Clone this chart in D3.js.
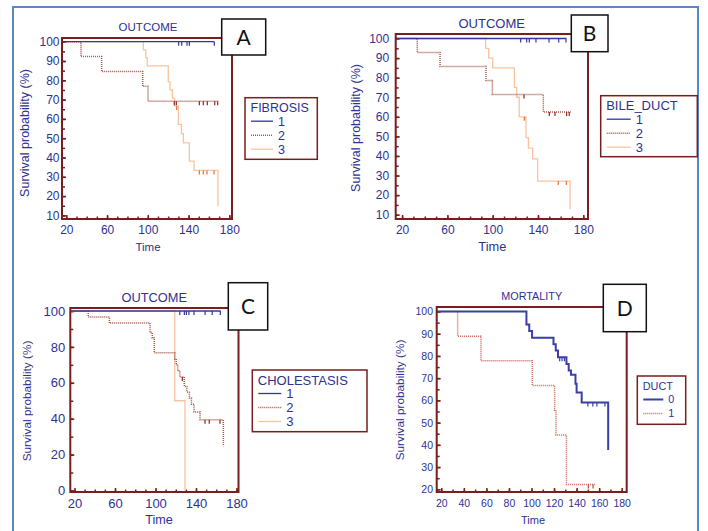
<!DOCTYPE html>
<html>
<head>
<meta charset="utf-8">
<script src="https://cdnjs.cloudflare.com/ajax/libs/d3/7.8.5/d3.min.js"></script>
<style>
    body { margin: 0; background: #fff; }
    svg { display: block; font-family: "Liberation Sans", Arial, sans-serif; }
</style>
</head>
<body>
<div id="chart"></div>
<script>
(function () {
    var timeTicks = [20, 60, 100, 140, 180];
    var timeTicksD = [20, 40, 60, 80, 100, 120, 140, 160, 180];
    var survTicks = [10, 20, 30, 40, 50, 60, 70, 80, 90, 100];
    var survTicksC = [0, 20, 40, 60, 80, 100];
    var survTicksD = [20, 30, 40, 50, 60, 70, 80, 90, 100];

    var groupNames = ['1', '2', '3'];
    var ductNames = ['0', '1'];

    // [time, survival %] at each drop
    var fibrosis1 = [[0, 100], [165.3, 100]];
    var fibrosis2 = [[0, 100], [34.4, 92.3], [54.7, 84.6], [95, 76.9], [100.2, 69.2], [169.6, 69.2]];
    var fibrosis3 = [[0, 100], [95.6, 95.8], [98, 91.7], [99.5, 87.5], [120.1, 79.2], [121.8, 75], [124.1, 70.8],
        [126.3, 66.7], [130, 57.2], [133, 52.4], [134.9, 47.6], [140.8, 38.1], [145.4, 33.3], [168.9, 14.8]];
    var fibrosis1Cens = [130.3, 133.3, 138.5, 140.8, 165.3];
    var fibrosis2Cens = [126, 128, 150.6, 154.5, 158.4, 165.7, 168.6];
    var fibrosis3Cens = [128.4, 150.6, 154.5, 158.1, 165];

    var bileDuct1 = [[0, 100], [165, 100]];
    var bileDuct2 = [[0, 100], [33.4, 92.9], [53.5, 85.7], [94.1, 78.6], [99.7, 71.4], [144.7, 62.5], [168.9, 62.5]];
    var bileDuct3 = [[0, 100], [93.8, 95], [96.5, 90], [100, 85], [119.1, 75], [121.2, 70], [123.4, 60],
        [129.4, 49.4], [131.5, 44], [135.3, 38.5], [139.7, 27.2], [168.3, 12.8]];
    var bileDuct1Cens = [124.7, 130, 132.3, 138.2, 149.7, 158.3, 164.7];
    var bileDuct2Cens = [127.6, 150, 155, 165.3, 167.6];
    var bileDuct3Cens = [127.9, 157.9, 165];

    var cholestasis1 = [[0, 100], [164.4, 100]];
    var cholestasis2 = [[0, 100], [33.6, 96.7], [54.4, 93.3], [94.6, 88], [96.8, 85], [98.8, 76.7], [119, 73.3],
        [120.5, 70], [122, 66.7], [124, 63.3], [128.5, 58], [131, 54.8], [133.5, 51.5], [135.5, 48],
        [138, 43.7], [144, 39.4], [167, 24.6]];
    var cholestasis3 = [[0, 100], [119, 50], [129.1, 0]];
    var cholestasis1Cens = [124, 128.5, 130.5, 133, 138, 149, 156, 164];
    var cholestasis2Cens = [126.5, 148.9, 153.1, 163.7];
    var cholestasis3Cens = [];

    var duct0 = [[0, 100], [95.5, 94.1], [98, 91.2], [100.5, 88.2], [119.5, 85.3], [121.5, 82.4], [123.5, 79.4],
        [131, 76.4], [133, 73.5], [135, 71.5], [139, 67.5], [140, 63.5], [144.5, 59], [168, 37.7]];
    var duct1 = [[0, 100], [34.5, 88.9], [55.2, 77.8], [100.7, 66.7], [120.5, 55.6], [121.7, 44.4],
        [131, 22.2], [156.3, 22.2]];
    var duct0Cens = [125, 127.1, 129.2, 150, 154.4, 158, 165.1];
    var duct1Cens = [150.4, 154.6];

    var ink = '#2e3192';
    var frame = '#7a1d1d';

    var thinStyles = [
        { color: '#3434a0', width: 1.3, dash: null, mark: '#3434a0' },
        { color: '#a65646', width: 1.5, dash: '1,1', mark: '#862720' },
        { color: '#f8c4a0', width: 1.3, dash: null, mark: '#f26b2a' }
    ];
    var ductStyles = [
        { color: '#3a3fa8', width: 2, dash: null, mark: '#3a3fa8' },
        { color: '#cc6655', width: 1.5, dash: '1,1', mark: '#b84a3c' }
    ];

    var panels = [
        {
            letter: 'A', title: 'OUTCOME', legend: 'FIBROSIS', names: groupNames, styles: thinStyles,
            curves: [fibrosis1, fibrosis2, fibrosis3], cens: [fibrosis1Cens, fibrosis2Cens, fibrosis3Cens],
            xTicks: timeTicks, yTicks: survTicks, yDomain: [10, 100], yMinor: 5,
            xRange: [66.3, 229.3], yRange: [215.4, 41.7], box: [62, 38, 232, 219],
            font: 12, xPad: 6.5, yPad: 2.5,
            titlePos: [148, 30.7, 11.5], yLabelPos: [25, 133, 12.5], timePos: [148, 250.7, 11.5],
            legendBox: [245, 97.7, 72.3, 61.6, 12.5, 22], letterBox: [221.7, 19, 44, 36]
        },
        {
            letter: 'B', title: 'OUTCOME', legend: 'BILE_DUCT', names: groupNames, styles: thinStyles,
            curves: [bileDuct1, bileDuct2, bileDuct3], cens: [bileDuct1Cens, bileDuct2Cens, bileDuct3Cens],
            xTicks: timeTicks, yTicks: survTicks, yDomain: [10, 100], yMinor: 5,
            xRange: [402.1, 583.3], yRange: [214.7, 38.5], box: [395.7, 34, 588, 219],
            font: 12, xPad: 6, yPad: 6.5,
            titlePos: [491.7, 28, 13], yLabelPos: [356, 128, 12.5], timePos: [492.3, 251, 12.8],
            legendBox: [600.7, 95.7, 96.6, 61, 13, 24], letterBox: [571.3, 15, 36.7, 36.7]
        },
        {
            letter: 'C', title: 'OUTCOME', legend: 'CHOLESTASIS', names: groupNames, styles: thinStyles,
            curves: [cholestasis1, cholestasis2, cholestasis3],
            cens: [cholestasis1Cens, cholestasis2Cens, cholestasis3Cens],
            xTicks: timeTicks, yTicks: survTicksC, yDomain: [0, 100], yMinor: 10,
            xRange: [74.5, 236.5], yRange: [490.5, 311], box: [70.3, 308, 238.5, 492],
            font: 13, xPad: 6.5, yPad: 5,
            titlePos: [154.3, 302, 12.8], yLabelPos: [27, 401, 11.8], timePos: [159, 524, 12.6],
            legendBox: [252.3, 370, 114.7, 61.7, 13, 23], letterBox: [228.3, 282.7, 39.4, 47.3]
        },
        {
            letter: 'D', title: 'MORTALITY', legend: 'DUCT', names: ductNames, styles: ductStyles,
            curves: [duct0, duct1], cens: [duct0Cens, duct1Cens],
            xTicks: timeTicksD, yTicks: survTicksD, yDomain: [20, 100], yMinor: 5,
            xRange: [441.3, 621.7], yRange: [489.3, 311.5], box: [436.7, 307, 626.7, 492],
            font: 10.5, xPad: 7.5, yPad: 3.7,
            titlePos: [531.7, 300, 10.8], yLabelPos: [400, 400, 11.8], timePos: [533, 524, 11],
            legendBox: [637.3, 376, 48.4, 48.3, 10.8, 20], letterBox: [603.3, 284.3, 43, 47.4]
        }
    ];

    var svg = d3.select('#chart')
        .append('svg')
        .attr('width', 708)
        .attr('height', 531);

    svg.append('path')
        .attr('d', 'M13,531 V7 H698 V531')
        .attr('fill', 'none')
        .attr('stroke', '#5b87c9')
        .attr('stroke-width', 2);

    panels.forEach(drawPanel);

    function survivalAt (curve, t) {
        var v = curve[0][1];
        curve.forEach(function (d) {
            if (d[0] <= t) {
                v = d[1];
            }
        });
        return v;
    }

    function drawPanel (p) {
        var x = d3.scaleLinear().domain([20, 180]).range(p.xRange);
        var y = d3.scaleLinear().domain(p.yDomain).range(p.yRange);
        var box = p.box;
        var g = svg.append('g');
        var clipId = 'clip' + p.letter;

        g.append('clipPath')
            .attr('id', clipId)
            .append('rect')
            .attr('x', box[0])
            .attr('y', box[1])
            .attr('width', box[2] - box[0])
            .attr('height', box[3] - box[1]);

        // minor ticks
        g.append('g')
            .attr('transform', 'translate(0,' + box[3] + ')')
            .call(d3.axisBottom(x).tickValues(d3.range(20, 181, 10)).tickSize(-2.5).tickFormat(''));
        g.append('g')
            .attr('transform', 'translate(' + box[0] + ',0)')
            .call(d3.axisLeft(y).tickValues(d3.range(p.yDomain[0], 100.1, p.yMinor)).tickSize(-3).tickFormat(''));

        var xAxis = g.append('g')
            .attr('transform', 'translate(0,' + box[3] + ')')
            .call(d3.axisBottom(x).tickValues(p.xTicks).tickSize(-4).tickPadding(p.xPad));
        var yAxis = g.append('g')
            .attr('transform', 'translate(' + box[0] + ',0)')
            .call(d3.axisLeft(y).tickValues(p.yTicks).tickSize(-4).tickPadding(p.yPad));

        g.selectAll('.domain').remove();
        g.selectAll('.tick line')
            .attr('stroke', frame)
            .attr('stroke-width', 1.5);
        [xAxis, yAxis].forEach(function (a) {
            a.attr('font-size', p.font)
                .attr('font-family', null)
                .selectAll('text')
                .attr('fill', ink);
        });

        var line = d3.line()
            .x(function (d) { return x(d[0]); })
            .y(function (d) { return y(d[1]); })
            .curve(d3.curveStepAfter);

        var plot = g.append('g').attr('clip-path', 'url(#' + clipId + ')');

        for (var i = p.curves.length - 1; i >= 0; i--) {
            var st = p.styles[i];
            var curve = p.curves[i];
            plot.append('path')
                .attr('d', line(curve))
                .attr('fill', 'none')
                .attr('stroke', st.color)
                .attr('stroke-width', st.width)
                .attr('stroke-dasharray', st.dash);

            plot.selectAll('.cens' + i)
                .data(p.cens[i])
                .enter()
                .append('line')
                .attr('x1', function (d) { return x(d); })
                .attr('x2', function (d) { return x(d); })
                .attr('y1', function (d) { return y(survivalAt(curve, d)); })
                .attr('y2', function (d) { return y(survivalAt(curve, d)) + 4; })
                .attr('stroke', st.mark)
                .attr('stroke-width', 1.2);
        }

        g.append('rect')
            .attr('x', box[0])
            .attr('y', box[1])
            .attr('width', box[2] - box[0])
            .attr('height', box[3] - box[1])
            .attr('fill', 'none')
            .attr('stroke', frame)
            .attr('stroke-width', 2);

        g.append('text')
            .attr('x', p.titlePos[0])
            .attr('y', p.titlePos[1])
            .attr('text-anchor', 'middle')
            .attr('font-size', p.titlePos[2])
            .attr('fill', ink)
            .text(p.title);

        g.append('text')
            .attr('transform', 'translate(' + p.yLabelPos[0] + ',' + p.yLabelPos[1] + ') rotate(-90)')
            .attr('text-anchor', 'middle')
            .attr('dy', '0.35em')
            .attr('font-size', p.yLabelPos[2])
            .attr('fill', ink)
            .text('Survival probability (%)');

        g.append('text')
            .attr('x', p.timePos[0])
            .attr('y', p.timePos[1])
            .attr('text-anchor', 'middle')
            .attr('font-size', p.timePos[2])
            .attr('fill', ink)
            .text('Time');

        // legend
        var lb = p.legendBox;
        var lg = g.append('g').attr('transform', 'translate(' + lb[0] + ',' + lb[1] + ')');
        lg.append('rect')
            .attr('width', lb[2])
            .attr('height', lb[3])
            .attr('fill', '#fff')
            .attr('stroke', frame)
            .attr('stroke-width', 1.5);
        lg.append('text')
            .attr('x', 5.5)
            .attr('y', 10)
            .attr('dy', '0.35em')
            .attr('font-size', lb[4])
            .attr('fill', ink)
            .text(p.legend);

        var rows = lg.selectAll('.row')
            .data(p.names)
            .enter()
            .append('g')
            .attr('transform', function (d, k) {
                return 'translate(6,' + (23.5 + k * 14) + ')';
            });
        rows.append('line')
            .attr('x1', 0)
            .attr('x2', lb[5])
            .attr('stroke', function (d, k) { return p.styles[k].color; })
            .attr('stroke-width', function (d, k) { return p.styles[k].width; })
            .attr('stroke-dasharray', function (d, k) { return p.styles[k].dash; });
        rows.append('text')
            .attr('x', lb[5] + 5)
            .attr('dy', '0.35em')
            .attr('font-size', lb[4])
            .attr('fill', ink)
            .text(function (d) { return d; });

        var bb = p.letterBox;
        g.append('rect')
            .attr('x', bb[0])
            .attr('y', bb[1])
            .attr('width', bb[2])
            .attr('height', bb[3])
            .attr('fill', '#fff')
            .attr('stroke', '#111')
            .attr('stroke-width', 1.5);
        g.append('text')
            .attr('x', bb[0] + bb[2] / 2)
            .attr('y', bb[1] + bb[3] / 2)
            .attr('dy', '0.36em')
            .attr('text-anchor', 'middle')
            .attr('font-family', 'Lato, "Liberation Sans", sans-serif')
            .attr('font-size', 21)
            .attr('fill', '#111')
            .text(p.letter);
    }
})();
</script>
</body>
</html>
